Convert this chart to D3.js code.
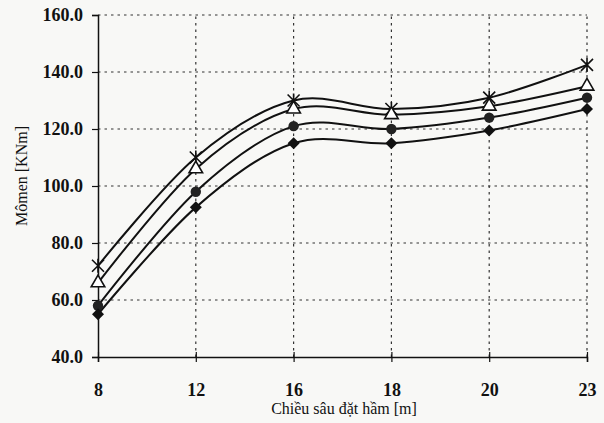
<!DOCTYPE html>
<html lang="vi">
<head>
<meta charset="UTF-8">
<title>Mômen theo chiều sâu đặt hầm</title>
<script src="https://d3js.org/d3.v7.min.js"></script>
<style>
  body { margin: 0; background: #f8f8f6; }
  svg { display: block; }
  .grid line { stroke: #333; stroke-width: 1.2; stroke-dasharray: 2.5 4; }
</style>
</head>
<body>
<div id="chart"></div>
<script>
// chiều sâu (m) - trục x dạng phân loại
const depths = ["8", "12", "16", "18", "20", "23"];
const yTicks = [40, 60, 80, 100, 120, 140, 160];

// 4 đường
const seriesStar     = [72, 110, 130, 127, 131, 142.5];
const seriesTriangle = [66, 106, 127, 125, 128, 135];
const seriesCircle   = [58, 98, 121, 120, 124, 131];
const seriesDiamond  = [55, 92.5, 115, 115, 119.5, 127];

const serif = "'Liberation Serif', 'DejaVu Serif', serif";
const width = 604, height = 423;
const margin = { top: 15, right: 17, bottom: 66, left: 98 };

const svg = d3.select("#chart").append("svg")
    .attr("width", width).attr("height", height);

const x = d3.scalePoint().domain(depths).range([margin.left, width - margin.right]);
const y = d3.scaleLinear().domain([40, 160]).range([height - margin.bottom, margin.top]);

// lưới chấm
const grid = svg.append("g").attr("class", "grid");
grid.selectAll(".h").data(yTicks.slice(1)).join("line")
    .attr("x1", margin.left).attr("x2", width - margin.right)
    .attr("y1", d => y(d)).attr("y2", d => y(d));
grid.selectAll(".v").data(depths.slice(1)).join("line")
    .attr("x1", d => x(d)).attr("x2", d => x(d))
    .attr("y1", y(40)).attr("y2", y(160));

// trục
const yAxis = svg.append("g")
    .attr("transform", `translate(${margin.left},0)`)
    .call(d3.axisLeft(y).tickValues(yTicks).tickFormat(d3.format(".1f")).tickSize(6).tickPadding(9));
yAxis.attr("font-family", serif);
yAxis.select(".domain").attr("stroke", "#111").attr("stroke-width", 1.5);
yAxis.selectAll(".tick line").attr("stroke", "#111").attr("stroke-width", 1.2);
yAxis.selectAll("text").attr("font-family", serif).attr("font-size", 18).attr("fill", "#111").attr("font-weight", "bold");

const xAxis = svg.append("g")
    .attr("transform", `translate(0,${y(40)})`)
    .call(d3.axisBottom(x).tickSize(5).tickPadding(21));
xAxis.attr("font-family", serif);
xAxis.select(".domain").attr("stroke", "#111").attr("stroke-width", 1.5);
xAxis.selectAll(".tick line").attr("stroke", "#111").attr("stroke-width", 1.2).attr("y1", -5);
xAxis.selectAll("text").attr("font-family", serif).attr("font-size", 18).attr("fill", "#111").attr("font-weight", "bold");

// tiêu đề trục
svg.append("text")
    .attr("transform", "translate(27,176) rotate(-90)")
    .attr("text-anchor", "middle").attr("font-family", serif).attr("font-size", 16).attr("fill", "#111")
    .text("Mômen [KNm]");
svg.append("text")
    .attr("x", 344).attr("y", 414)
    .attr("text-anchor", "middle").attr("font-family", serif).attr("font-size", 16).attr("fill", "#111")
    .text("Chiều sâu đặt hầm [m]");

// đường cong
const line = d3.line()
    .x((d, i) => x(depths[i]))
    .y(d => y(d))
    .curve(d3.curveCardinal.tension(0));

const series = [
  { values: seriesStar, marker: "star" },
  { values: seriesTriangle, marker: "triangle" },
  { values: seriesCircle, marker: "circle" },
  { values: seriesDiamond, marker: "diamond" }
];

series.forEach(s => {
  svg.append("path").datum(s.values)
      .attr("d", line)
      .attr("fill", "none").attr("stroke", "#111").attr("stroke-width", 2);
});

series.forEach(s => {
  const g = svg.append("g");
  s.values.forEach((v, i) => {
    const cx = x(depths[i]), cy = y(v);
    if (s.marker === "star") {
      const r = 6;
      g.append("path")
          .attr("d", `M${cx - r},${cy - r}L${cx + r},${cy + r}M${cx - r},${cy + r}L${cx + r},${cy - r}M${cx},${cy - r - 1}L${cx},${cy + r + 1}`)
          .attr("stroke", "#111").attr("stroke-width", 1.6).attr("fill", "none");
    } else if (s.marker === "triangle") {
      g.append("path")
          .attr("d", d3.symbol(d3.symbolTriangle, 80)())
          .attr("transform", `translate(${cx},${cy})`)
          .attr("fill", "#fff").attr("stroke", "#111").attr("stroke-width", 1.6);
    } else if (s.marker === "circle") {
      g.append("circle").attr("cx", cx).attr("cy", cy).attr("r", 5.2)
          .attr("fill", "#222");
    } else {
      g.append("path")
          .attr("d", d3.symbol(d3.symbolSquare, 72)())
          .attr("transform", `translate(${cx},${cy}) rotate(45)`)
          .attr("fill", "#111");
    }
  });
});
</script>
</body>
</html>
